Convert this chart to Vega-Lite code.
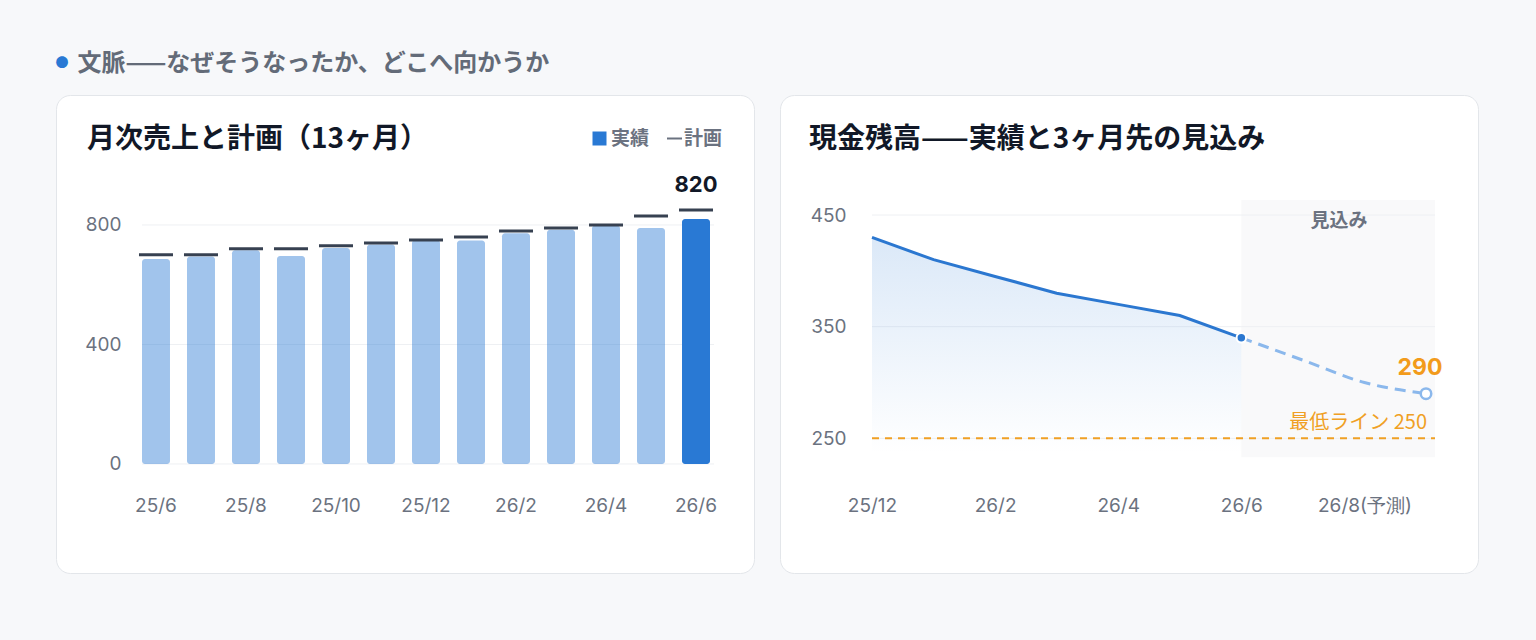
{
  "$schema": "https://vega.github.io/schema/vega-lite/v6.json",
  "background": "#f7f8fa",
  "padding": {"left": 55, "top": 51, "right": 70, "bottom": 80},
  "title": {"text": "●", "anchor": "start", "fontSize": 13, "color": "#2979d4", "offset": 0, "dy": 18, "dx": 0},
  "vconcat": [
    {
      "title": {"text": "文脈——なぜそうなったか、どこへ向かうか", "anchor": "start", "fontSize": 24, "fontWeight": "bold", "color": "#636b78", "dx": 22, "offset": 19},
      "spacing": 24,
      "hconcat": [
        {
          "width": 698,
          "height": 478,
          "view": {"fill": "#ffffff", "stroke": "#e3e6ea", "cornerRadius": 14, "strokeWidth": 1},
          "title": {"text": "月次売上と計画（13ヶ月）", "anchor": "start", "frame": "group", "baseline": "middle", "offset": -73, "dx": 31, "fontSize": 28, "fontWeight": "bold", "color": "#111827"},
          "data": {"values": [
            {"month": "25/6", "actual": 686, "plan": 700},
            {"month": "25/7", "actual": 694, "plan": 700},
            {"month": "25/8", "actual": 715, "plan": 720},
            {"month": "25/9", "actual": 696, "plan": 720},
            {"month": "25/10", "actual": 723, "plan": 730},
            {"month": "25/11", "actual": 735, "plan": 740},
            {"month": "25/12", "actual": 750, "plan": 750},
            {"month": "26/1", "actual": 748, "plan": 760},
            {"month": "26/2", "actual": 772, "plan": 780},
            {"month": "26/3", "actual": 784, "plan": 790},
            {"month": "26/4", "actual": 798, "plan": 800},
            {"month": "26/5", "actual": 790, "plan": 830},
            {"month": "26/6", "actual": 820, "plan": 850}
          ]},
          "encoding": {
            "x": {"field": "month", "type": "ordinal",
              "scale": {"domain": ["25/6","25/7","25/8","25/9","25/10","25/11","25/12","26/1","26/2","26/3","26/4","26/5","26/6"], "range": [86, 654], "paddingInner": 0.378, "paddingOuter": 0},
              "axis": {"values": ["25/6","25/8","25/10","25/12","26/2","26/4","26/6"], "offset": -80, "labelPadding": 3, "labelAngle": 0, "title": null, "domain": false, "ticks": false, "grid": false}}
          },
          "layer": [
            {
              "data": {"values": [{"v": 0}, {"v": 400}, {"v": 800}]},
              "mark": {"type": "rule", "color": "#eef0f3", "strokeWidth": 1, "xOffset": -14, "x2Offset": 18},
              "encoding": {
                "x": {"datum": "25/6", "type": "ordinal"},
                "x2": {"datum": "26/6"},
                "y": {"field": "v", "type": "quantitative"}
              }
            },
            {
              "mark": {"type": "bar", "cornerRadius": 3},
              "encoding": {
                "y": {"field": "actual", "type": "quantitative",
                  "scale": {"domain": [-365, 1235], "nice": false, "zero": false},
                  "axis": {"values": [0, 400, 800], "offset": -75, "labelPadding": 10, "title": null, "domain": false, "ticks": false, "grid": false}},
                "y2": {"datum": 0},
                "color": {"datum": "実績", "type": "nominal",
                  "scale": {"domain": ["実績"], "range": ["#2979d4"]},
                  "legend": {"orient": "none", "legendX": 534, "legendY": 34, "title": null, "symbolType": "square", "symbolOpacity": 1,
                    "labelFontSize": 19, "labelColor": "#6b7280", "labelFontWeight": 600, "labelFont": "Noto Sans CJK JP",
                    "symbolSize": 196, "labelOffset": 2}},
                "opacity": {"condition": {"test": "datum.month === '26/6'", "value": 1}, "value": 0.44}
              }
            },
            {
              "mark": {"type": "tick", "thickness": 3, "size": 34, "opacity": 1},
              "encoding": {
                "y": {"field": "plan", "type": "quantitative"},
                "fill": {"datum": "計画", "type": "nominal",
                  "scale": {"domain": ["計画"], "range": ["#374151"]},
                  "legend": {"orient": "none", "legendX": 609, "legendY": 34, "title": null, "symbolType": "stroke",
                    "symbolStrokeColor": "#6b7280", "symbolStrokeWidth": 2, "symbolOpacity": 1,
                    "labelFontSize": 19, "labelColor": "#6b7280", "labelFontWeight": 600, "labelFont": "Noto Sans CJK JP",
                    "symbolSize": 225, "labelOffset": 0}}
              }
            },
            {
              "transform": [{"filter": "datum.month === '26/6'"}],
              "mark": {"type": "text", "baseline": "bottom", "dy": -13, "fontSize": 22, "fontWeight": "bold", "color": "#111827", "font": "Inter"},
              "encoding": {
                "y": {"field": "plan", "type": "quantitative"},
                "text": {"field": "actual", "type": "quantitative"}
              }
            }
          ]
        },
        {
          "width": 698,
          "height": 478,
          "view": {"fill": "#ffffff", "stroke": "#e3e6ea", "cornerRadius": 14, "strokeWidth": 1},
          "title": {"text": "現金残高——実績と3ヶ月先の見込み", "anchor": "start", "frame": "group", "baseline": "middle", "offset": -73, "dx": 29, "fontSize": 28, "fontWeight": "bold", "color": "#111827"},
          "data": {"values": [
            {"month": "25/12", "cash": 430, "phase": "実績"},
            {"month": "26/1", "cash": 410, "phase": "実績"},
            {"month": "26/2", "cash": 395, "phase": "実績"},
            {"month": "26/3", "cash": 380, "phase": "実績"},
            {"month": "26/4", "cash": 370, "phase": "実績"},
            {"month": "26/5", "cash": 360, "phase": "実績"},
            {"month": "26/6", "cash": 340, "phase": "実績"},
            {"month": "26/6", "cash": 340, "phase": "見込み"},
            {"month": "26/7", "cash": 320, "phase": "見込み"},
            {"month": "26/8", "cash": 300, "phase": "見込み"},
            {"month": "26/9", "cash": 290, "phase": "見込み"}
          ]},
          "encoding": {
            "x": {"field": "month", "type": "ordinal",
              "scale": {"type": "point", "domain": ["25/12","26/1","26/2","26/3","26/4","26/5","26/6","26/7","26/8","26/9"], "range": [92, 646], "padding": 0},
              "axis": {"values": ["25/12","26/2","26/4","26/6","26/8"], "labelExpr": "datum.value === '26/8' ? '26/8(予測)' : datum.value", "offset": -80, "labelPadding": 3, "labelAngle": 0, "title": null, "domain": false, "ticks": false, "grid": false}},
            "y": {"field": "cash", "type": "quantitative",
              "scale": {"domain": [129.4, 557.5], "nice": false, "zero": false},
              "axis": {"values": [250, 350, 450], "offset": -76, "labelPadding": 10, "title": null, "domain": false, "ticks": false, "grid": false}}
          },
          "layer": [
            {
              "transform": [{"filter": "datum.month === '26/9'"}],
              "mark": {"type": "rect", "color": "#f9f9fa", "x2Offset": 9},
              "encoding": {
                "x": {"datum": "26/6", "type": "ordinal"},
                "x2": {"datum": "26/9"},
                "y": {"datum": 463.5, "type": "quantitative"},
                "y2": {"datum": 233}
              }
            },
            {
              "data": {"values": [{"v": 250}, {"v": 350}, {"v": 450}]},
              "mark": {"type": "rule", "color": "#eef0f3", "strokeWidth": 1, "x2Offset": 9},
              "encoding": {
                "x": {"datum": "25/12", "type": "ordinal"},
                "x2": {"datum": "26/9"},
                "y": {"field": "v", "type": "quantitative"}
              }
            },
            {
              "transform": [{"filter": "datum.month === '26/9'"}],
              "mark": {"type": "text", "fontSize": 19, "fontWeight": 600, "color": "#6b7280", "baseline": "middle", "dx": 36},
              "encoding": {
                "x": {"datum": "26/7", "type": "ordinal"},
                "y": {"datum": 445, "type": "quantitative"},
                "text": {"value": "見込み"}
              }
            },
            {
              "transform": [{"filter": "datum.phase === '実績'"}],
              "mark": {"type": "area", "color": {"x1": 0, "y1": 0, "x2": 0, "y2": 1, "gradient": "linear", "stops": [{"offset": 0, "color": "rgba(41,121,212,0.17)"}, {"offset": 1, "color": "rgba(41,121,212,0.0)"}]}},
              "encoding": {
                "y2": {"datum": 236}
              }
            },
            {
              "data": {"values": [{"label": "最低ライン 250", "value": 250}]},
              "mark": {"type": "rule", "color": "#f0a024", "strokeWidth": 2, "strokeDash": [7, 6], "x2Offset": 9},
              "encoding": {
                "x": {"datum": "25/12", "type": "ordinal"},
                "x2": {"datum": "26/9"},
                "y": {"field": "value", "type": "quantitative"}
              }
            },
            {
              "data": {"values": [{"label": "最低ライン 250", "value": 250}]},
              "mark": {"type": "text", "fontSize": 20, "color": "#f0a024", "align": "right", "baseline": "middle", "dy": -15, "dx": 1},
              "encoding": {
                "x": {"datum": "26/9", "type": "ordinal"},
                "y": {"field": "value", "type": "quantitative"},
                "text": {"field": "label"}
              }
            },
            {
              "transform": [{"filter": "datum.phase === '実績'"}],
              "mark": {"type": "line", "color": "#2b77d0", "strokeWidth": 3},
              "encoding": {}
            },
            {
              "transform": [{"filter": "datum.phase === '見込み'"}],
              "mark": {"type": "line", "color": "#8bb8ec", "strokeWidth": 3, "strokeDash": [11, 7], "interpolate": "monotone"},
              "encoding": {}
            },
            {
              "transform": [{"filter": "datum.phase === '実績' && datum.month === '26/6'"}],
              "mark": {"type": "point", "filled": true, "color": "#2b77d0", "stroke": "#ffffff", "strokeWidth": 2, "size": 90, "opacity": 1},
              "encoding": {}
            },
            {
              "transform": [{"filter": "datum.month === '26/9'"}],
              "mark": {"type": "point", "filled": true, "fill": "#ffffff", "stroke": "#8bb8ec", "strokeWidth": 2.5, "size": 110, "opacity": 1},
              "encoding": {}
            },
            {
              "transform": [{"filter": "datum.month === '26/9'"}],
              "mark": {"type": "text", "fontSize": 23, "fontWeight": "bold", "color": "#f29b1b", "font": "Inter", "baseline": "bottom", "dy": -14, "dx": -6},
              "encoding": {
                "text": {"field": "cash", "type": "quantitative"}
              }
            }
          ]
        }
      ]
    }
  ],
  "config": {
    "font": "Noto Sans CJK JP",
    "view": {"stroke": null},
    "axis": {"labelFont": "Inter", "labelFontSize": 19, "labelColor": "#6b7280"}
  }
}
